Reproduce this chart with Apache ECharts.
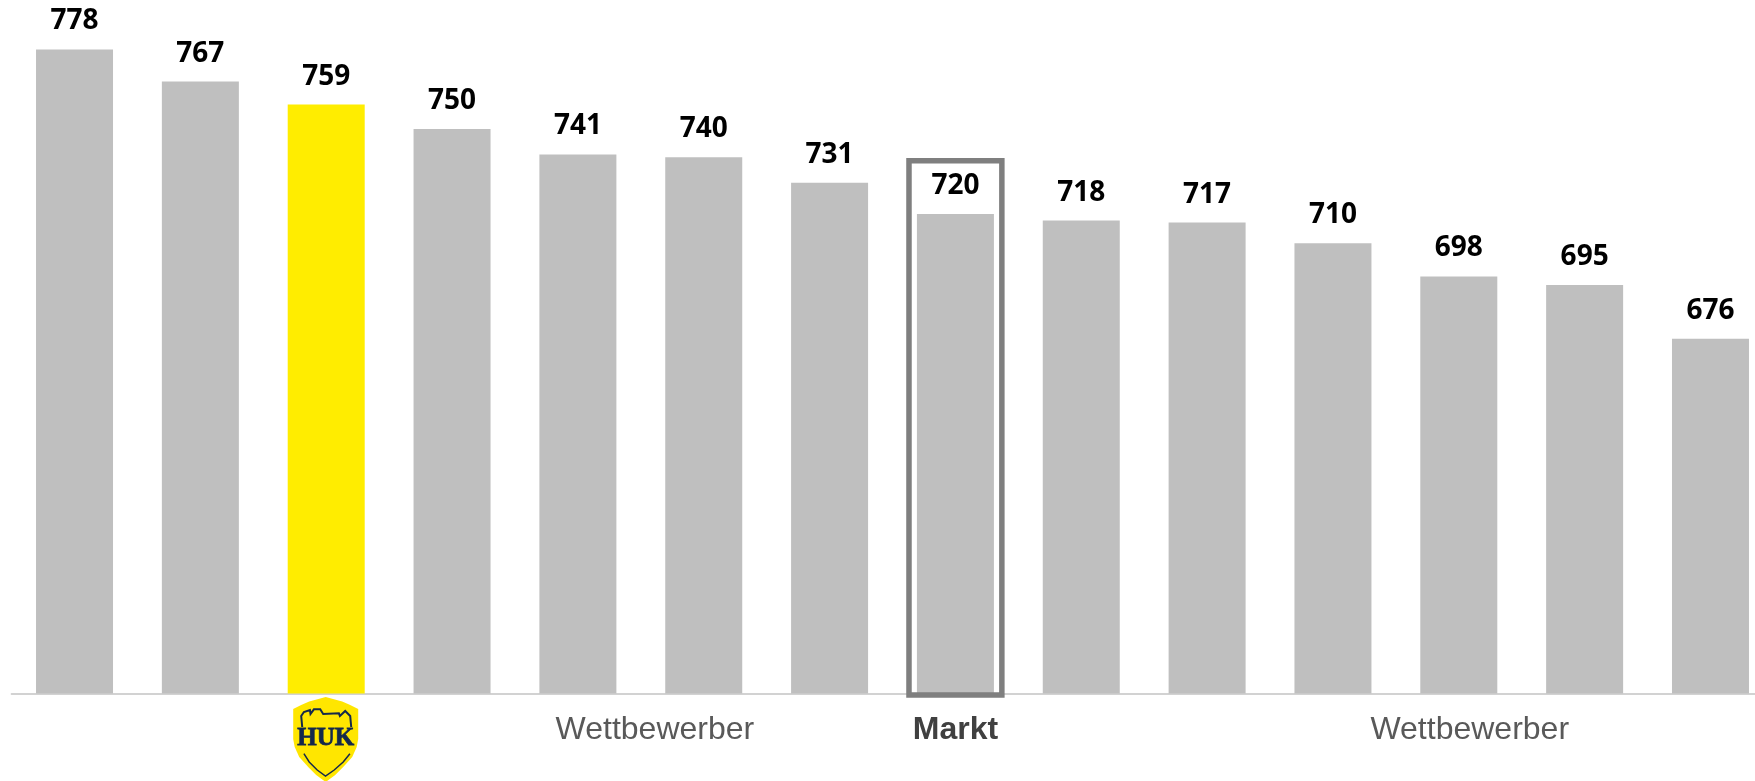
<!DOCTYPE html>
<html>
<head>
<meta charset="utf-8">
<script src="https://cdn.jsdelivr.net/npm/echarts@6/dist/echarts.min.js"></script>
<style>html,body{margin:0;padding:0;background:#fff;overflow:hidden}#w{width:1755px;height:781px;overflow:hidden}#c{width:1800px;height:781px}</style>
</head>
<body>
<div id="w"><div id="c"></div></div>
<script>
const categories = ['W1','W2','HUK','W3','W4','W5','W6','Markt','W7','W8','W9','W10','W11','W12'];
const values = [778,766.7,758.6,750,741,740,731,720,717.7,717,709.7,698,695,676];
const highlightCategory = 'HUK';
const boxCategory = 'Markt';
const boxRange = [738.8, 550.5];
const groupLabels = ['Wettbewerber','Markt','Wettbewerber'];
const groupAnchors = [5,7,11];
const groupOffsets = [-0.388,0,0.087];
const groupBold = [false,true,false];

const chart = echarts.init(document.getElementById('c'));
chart.setOption({
  animation:false,
  backgroundColor:'#fff',
  grid:{left:11.6,top:49.5,width:1761.8,height:644,containLabel:false},
  xAxis:{type:'category',data:categories,
    axisLine:{show:true,lineStyle:{color:'#d2d2d2',width:2}},
    axisTick:{show:false},axisLabel:{show:false},splitLine:{show:false}},
  yAxis:{type:'value',min:551,max:778,show:false,splitLine:{show:false}},
  series:[
    {type:'bar',barWidth:77,z:2,silent:true,
     data:values.map((v,i)=>({value:v,itemStyle:{color:categories[i]===highlightCategory?'#ffed00':'#bfbfbf'}})),
     label:{show:true,position:'top',distance:14,color:'#000',fontFamily:'"Open Sans"',fontWeight:'bold',fontSize:28,
       formatter:p=>String(Math.round(p.value))}},
    {type:'custom',z:5,silent:true,clip:false,data:[[boxCategory,boxRange[0],boxRange[1]]],
     encode:{x:0,y:[1,2]},
     renderItem:(p,api)=>{
       const top=api.coord([categories.indexOf(boxCategory),api.value(1)]);
       const bot=api.coord([categories.indexOf(boxCategory),api.value(2)]);
       const hw=api.size([1,0])[0]*0.369;
       return {type:'rect',shape:{x:top[0]-hw,y:top[1],width:hw*2,height:bot[1]-top[1]},
         style:{fill:'none',stroke:'#7f7f7f',lineWidth:5.5}};
     }},
    {type:'custom',z:5,silent:true,clip:false,data:groupLabels.map((t,i)=>[groupAnchors[i],551]),
     encode:{x:0,y:1},
     renderItem:(p,api)=>{
       const i=p.dataIndex;
       const pt=api.coord([groupAnchors[i],551]);
       return {type:'text',style:{text:groupLabels[i],
         x:pt[0]+groupOffsets[i]*api.size([1,0])[0],y:pt[1]+37,
         align:'center',verticalAlign:'middle',
         fill:groupBold[i]?'#404040':'#595959',
         font:(groupBold[i]?'bold ':'')+'32px "Liberation Sans"'}};
     }},
    {type:'custom',z:6,silent:true,clip:false,data:[[categories.indexOf(highlightCategory),551]],
     encode:{x:0,y:1},
     renderItem:(p,api)=>{
       const pt=api.coord([categories.indexOf(highlightCategory),551]);
       return {type:'group',x:pt[0]-33,y:pt[1]+3.5,children:[
         {type:'polygon',shape:{points:[[0,12],[8,8],[16,4.5],[32.5,0],[49,4.5],[57,8],[65,12],[65,42],[63.5,50],[59,60],[50,70],[42,78],[32.5,85],[23,78],[15,70],[6,60],[1.5,50],[0,42]]},style:{fill:'#ffe600'}},
         {type:'polyline',shape:{points:[[9,30],[8,19],[10.7,15],[16.7,13],[17.3,17],[20.7,12.3],[27,12.3],[30,17],[45.7,16.3],[46.7,19],[52,14],[57,19],[58,30]]},style:{fill:'none',stroke:'#14284b',lineWidth:2}},
         {type:'text',style:{text:'HUK',x:32.5,y:42,align:'center',verticalAlign:'middle',fill:'#14284b',stroke:'#14284b',lineWidth:0.8,font:'bold 25px "Liberation Serif"'}},
         {type:'polyline',shape:{points:[[10.7,56.7],[16,65],[24,73],[32.3,79],[41,73],[50,65],[56.7,56.7]]},style:{fill:'none',stroke:'#14284b',lineWidth:1.5}}
       ]};
     }}
  ]
});
</script>
</body>
</html>
